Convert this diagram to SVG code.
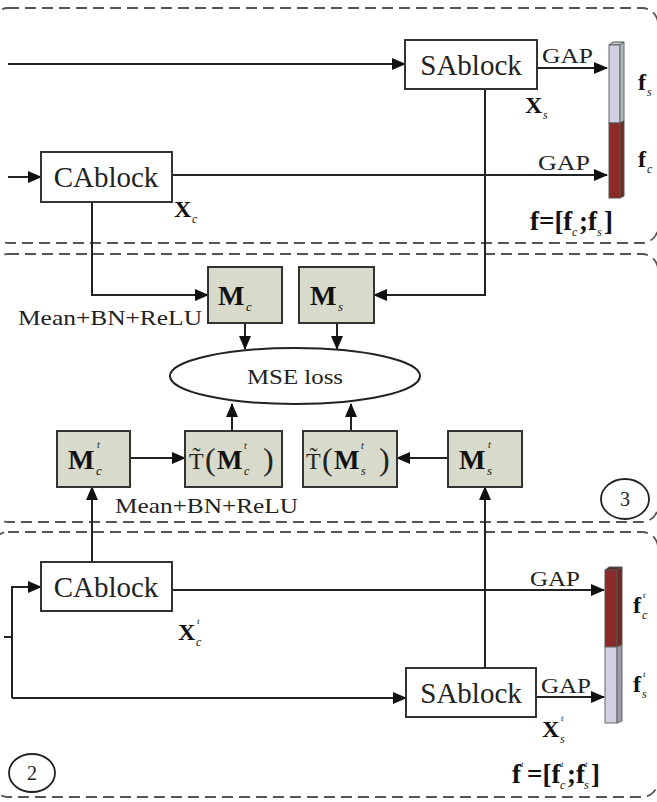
<svg xmlns="http://www.w3.org/2000/svg" width="657" height="802" viewBox="0 0 657 802">
<defs>
<marker id="ah" markerUnits="userSpaceOnUse" markerWidth="14" markerHeight="12" refX="13" refY="6" orient="auto">
<path d="M0,0 L14,6 L0,12 Z" fill="#111"/>
</marker>
<style>
.reg{fill:none;stroke:#555;stroke-width:1.8;stroke-dasharray:11 6}
.blk{fill:#fff;stroke:#333;stroke-width:2}
.m{fill:#d8dacb;stroke:#333;stroke-width:2}
.ln{fill:none;stroke:#222;stroke-width:2}
.la{fill:none;stroke:#222;stroke-width:2;marker-end:url(#ah)}
.t{font-family:"Liberation Serif","Times New Roman",serif;fill:#222}
.b{font-family:"Liberation Serif","Times New Roman",serif;font-weight:bold;fill:#111}
.s{font-family:"Liberation Serif","Times New Roman",serif;font-style:italic;fill:#111}
</style>
</defs>
<rect width="657" height="802" fill="#fff"/>

<!-- dashed regions -->
<rect class="reg" x="-8" y="8" width="666" height="235" rx="16"/>
<rect class="reg" x="-8" y="254" width="666" height="268" rx="16"/>
<rect class="reg" x="-8" y="532" width="666" height="265" rx="16"/>

<!-- connectors -->
<g id="connectors">
<path class="la" d="M8 64 H405"/>
<path class="la" d="M537 68 H607"/>
<path class="la" d="M8 177 H41"/>
<path class="la" d="M172 175 H607"/>
<path class="la" d="M92 202 V295 H208"/>
<path class="la" d="M485 89 V295 H374"/>
<path class="la" d="M245 323 V349"/>
<path class="la" d="M337 323 V349"/>
<path class="la" d="M232 431 V404"/>
<path class="la" d="M351 431 V404"/>
<path class="la" d="M130 458 H185"/>
<path class="la" d="M448 458 H397"/>
<path class="la" d="M92 562 V487"/>
<path class="la" d="M485 668 V487"/>
<path class="la" d="M172 590 H604"/>
<path class="la" d="M536 697 H604"/>
<path class="la" d="M12 698 V587 H41"/>
<path class="la" d="M12 698 H406"/>
<path class="ln" d="M4 637 H12"/>
</g>

<!-- top region -->
<g id="sablock">
<rect class="blk" x="405" y="40" width="132" height="49"/>
<text class="t" x="471" y="75" font-size="29" text-anchor="middle">SAblock</text>
</g>
<g id="cablock">
<rect class="blk" x="41" y="152" width="131" height="50"/>
<text class="t" x="106" y="187" font-size="29" text-anchor="middle">CAblock</text>
</g>
<g id="labels-top">
<text class="t" x="542" y="63" font-size="22" textLength="51" lengthAdjust="spacingAndGlyphs">GAP</text>
<text class="t" x="538" y="170" font-size="22" textLength="52" lengthAdjust="spacingAndGlyphs">GAP</text>
<text class="b" x="525" y="113" font-size="24">X</text><text class="s" x="543" y="119" font-size="12">s</text>
<text class="b" x="174" y="217" font-size="24">X</text><text class="s" x="192" y="223" font-size="12">c</text>
<text class="b" x="638" y="90" font-size="24">f</text><text class="s" x="647" y="96" font-size="12">s</text>
<text class="b" x="638" y="167" font-size="24">f</text><text class="s" x="647" y="173" font-size="12">c</text>
<text class="b" x="530" y="230" font-size="27">f=[f</text><text class="s" x="572" y="236" font-size="12">c</text>
<text class="b" x="579" y="230" font-size="27">;f</text><text class="s" x="597" y="236" font-size="12">s</text>
<text class="b" x="604" y="230" font-size="27">]</text>
</g>
<g id="bar-f">
<polygon points="609,45 613,42 624,42 620,45" fill="#b8c6c4" stroke="#555" stroke-width="1"/>
<rect x="609" y="45" width="11" height="78" fill="#d2cfe2" stroke="#666" stroke-width="1"/>
<polygon points="620,45 624,42 624,121 620,123" fill="#a9bdbb" stroke="#666" stroke-width="1"/>
<rect x="609" y="123" width="11" height="75" fill="#8b2a26" stroke="#555" stroke-width="1"/>
<polygon points="620,123 624,121 624,196 620,198" fill="#6e2a22" stroke="#555" stroke-width="1"/>
</g>

<!-- middle region -->
<g id="mc">
<rect class="m" x="208" y="267" width="74" height="56"/>
<text class="b" x="218" y="305" font-size="28">M</text><text class="s" x="246" y="311" font-size="13">c</text>
</g>
<g id="ms">
<rect class="m" x="299" y="267" width="75" height="56"/>
<text class="b" x="310" y="305" font-size="28">M</text><text class="s" x="338" y="311" font-size="13">s</text>
</g>
<g id="mse">
<ellipse cx="295" cy="376" rx="125" ry="28" fill="#fff" stroke="#222" stroke-width="2"/>
<text class="t" x="295" y="384" font-size="22" text-anchor="middle" textLength="96" lengthAdjust="spacingAndGlyphs">MSE loss</text>
</g>
<g id="mtc">
<rect class="m" x="57" y="431" width="73" height="56"/>
<text class="b" x="68" y="469" font-size="28">M</text><text class="s" x="97" y="448" font-size="10">t</text><text class="s" x="96" y="475" font-size="13">c</text>
</g>
<g id="tmtc">
<rect class="m" x="185" y="431" width="97" height="56"/>
<text class="t" x="189" y="469" font-size="24">T&#x0303;</text>
<text class="t" x="205" y="470" font-size="32">(</text>
<text class="b" x="217" y="469" font-size="27">M</text><text class="s" x="244" y="449" font-size="10">t</text><text class="s" x="244" y="475" font-size="12">c</text>
<text class="t" x="263" y="470" font-size="32">)</text>
</g>
<g id="tmts">
<rect class="m" x="303" y="431" width="94" height="56"/>
<text class="t" x="306" y="469" font-size="24">T&#x0303;</text>
<text class="t" x="322" y="470" font-size="32">(</text>
<text class="b" x="334" y="469" font-size="27">M</text><text class="s" x="361" y="449" font-size="10">t</text><text class="s" x="361" y="475" font-size="12">s</text>
<text class="t" x="379" y="470" font-size="32">)</text>
</g>
<g id="mts">
<rect class="m" x="448" y="431" width="74" height="56"/>
<text class="b" x="459" y="469" font-size="28">M</text><text class="s" x="488" y="448" font-size="10">t</text><text class="s" x="487" y="475" font-size="13">s</text>
</g>
<g id="labels-mid">
<text class="t" x="18" y="325" font-size="21" textLength="184" lengthAdjust="spacingAndGlyphs">Mean+BN+ReLU</text>
<text class="t" x="115" y="513" font-size="21" textLength="183" lengthAdjust="spacingAndGlyphs">Mean+BN+ReLU</text>
</g>
<g id="circle3">
<ellipse cx="625" cy="499" rx="24" ry="20" fill="#fff" stroke="#222" stroke-width="1.8"/>
<text class="t" x="625" y="506" font-size="20" text-anchor="middle">3</text>
</g>

<!-- bottom region -->
<g id="cablock-t">
<rect class="blk" x="41" y="562" width="131" height="49"/>
<text class="t" x="106" y="597" font-size="29" text-anchor="middle">CAblock</text>
</g>
<g id="sablock-t">
<rect class="blk" x="406" y="668" width="130" height="49"/>
<text class="t" x="471" y="703" font-size="29" text-anchor="middle">SAblock</text>
</g>
<g id="labels-bot">
<text class="t" x="530" y="586" font-size="22" textLength="50" lengthAdjust="spacingAndGlyphs">GAP</text>
<text class="t" x="541" y="693" font-size="22" textLength="50" lengthAdjust="spacingAndGlyphs">GAP</text>
<text class="b" x="178" y="640" font-size="24">X</text><text class="s" x="197" y="624" font-size="9">t</text><text class="s" x="196" y="646" font-size="12">c</text>
<text class="b" x="542" y="737" font-size="24">X</text><text class="s" x="561" y="721" font-size="9">t</text><text class="s" x="560" y="743" font-size="12">s</text>
<text class="b" x="633" y="613" font-size="24">f</text><text class="s" x="643" y="598" font-size="9">t</text><text class="s" x="642" y="619" font-size="12">c</text>
<text class="b" x="633" y="692" font-size="24">f</text><text class="s" x="643" y="677" font-size="9">t</text><text class="s" x="642" y="698" font-size="12">s</text>
<text class="b" x="512" y="783" font-size="27">f</text><text class="s" x="521" y="767" font-size="9">t</text>
<text class="b" x="527" y="783" font-size="27">=[f</text><text class="s" x="561" y="767" font-size="9">t</text><text class="s" x="560" y="789" font-size="12">c</text>
<text class="b" x="567" y="783" font-size="27">;f</text><text class="s" x="585" y="767" font-size="9">t</text><text class="s" x="584" y="789" font-size="12">s</text>
<text class="b" x="591" y="783" font-size="27">]</text>
</g>
<g id="bar-ft">
<polygon points="605,570 609,567 622,567 617,570" fill="#5a2a22" stroke="#555" stroke-width="1"/>
<rect x="605" y="570" width="12" height="77" fill="#8b2a26" stroke="#555" stroke-width="1"/>
<polygon points="617,570 622,567 622,645 617,647" fill="#6e2a22" stroke="#555" stroke-width="1"/>
<rect x="605" y="647" width="12" height="76" fill="#d2cfe2" stroke="#666" stroke-width="1"/>
<polygon points="617,647 622,645 622,721 617,723" fill="#9a9aa8" stroke="#666" stroke-width="1"/>
</g>
<g id="circle2">
<ellipse cx="32" cy="773" rx="23" ry="19" fill="#fff" stroke="#222" stroke-width="1.8"/>
<text class="t" x="32" y="780" font-size="20" text-anchor="middle">2</text>
</g>
</svg>
